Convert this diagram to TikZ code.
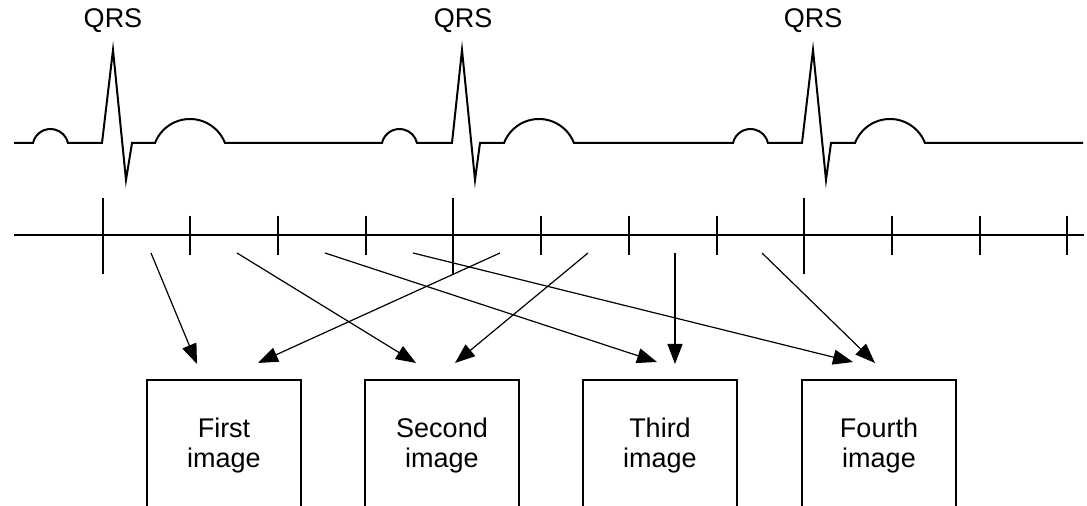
\documentclass[tikz,border=0pt]{standalone}
\usepackage{fontspec}
\setmainfont{Liberation Sans}
\usetikzlibrary{arrows.meta}
\begin{document}
\begin{tikzpicture}[x=0.5pt,y=-0.5pt,
  ecg/.style={line width=1pt, line join=miter, miter limit=20},
  axisline/.style={line width=1pt},
  shortmark/.style={line width=1pt},
  conn/.style={line width=0.6pt, -{Triangle[length=10pt,width=7.5pt]}},
  imgbox/.style={draw, line width=0.9pt, minimum width=77pt, minimum height=66pt,
    align=center, inner sep=0pt, font=\fontsize{13.5}{15}\selectfont},
  qrslabel/.style={font=\fontsize{13.5}{15}\selectfont, inner sep=0pt}]
\useasboundingbox (0,0) rectangle (1087,506);
\clip (0,0) rectangle (1087,506);

% QRS labels
\node[qrslabel] (q1) at (113,21) {QRS};
\node[qrslabel] (q2) at (463,21) {QRS};
\node[qrslabel] (q3) at (813,21) {QRS};

% ECG trace
\draw[ecg] (14,143) -- (33,143) arc[start angle=167.3,end angle=12.7,radius=8.97pt]
  -- (102,143) -- (113,50) -- (126,180) -- (132,143) -- (155,143)
  arc[start angle=158.9,end angle=21.1,radius=18.75pt]
  -- (382,143) arc[start angle=167.3,end angle=12.7,radius=8.97pt]
  -- (452,143) -- (462,50) -- (475,180) -- (480,143) -- (504,143)
  arc[start angle=158.9,end angle=21.1,radius=18.75pt]
  -- (733,143) arc[start angle=167.3,end angle=12.7,radius=8.97pt]
  -- (802,143) -- (813,50) -- (826,180) -- (831,143) -- (855,143)
  arc[start angle=158.9,end angle=21.1,radius=18.75pt]
  -- (1083,143);

% time axis
\draw[axisline] (14,235) -- (1084,235);
\foreach \x in {102.6,453.4,804.2} \draw[axisline] (\x,198) -- (\x,274);
\foreach \x in {190.3,278,365.7,541.1,628.8,716.5,891.9,979.6,1067.3}
  \draw[shortmark] (\x,216) -- (\x,255);

% image boxes
\node[imgbox] (b1) at (224,446) {First\\image};
\node[imgbox] (b2) at (442,446) {Second\\image};
\node[imgbox] (b3) at (660,446) {Third\\image};
\node[imgbox] (b4) at (879,446) {Fourth\\image};

% arrow start and end points
\coordinate (s1) at (151,253);
\coordinate (s2) at (237,253);
\coordinate (s3) at (325,253);
\coordinate (s4) at (413,253);
\coordinate (s5) at (500,253);
\coordinate (s6) at (588,253);
\coordinate (s7) at (675,253);
\coordinate (s8) at (762,253);
\coordinate (e1a) at (197,364);
\coordinate (e1b) at (258,363);
\coordinate (e2a) at (416,363);
\coordinate (e2b) at (455,363);
\coordinate (e3a) at (657,362);
\coordinate (e3b) at (675,364);
\coordinate (e4a) at (853,362);
\coordinate (e4b) at (875,363);

\draw[conn] (s1) -- (e1a);
\draw[conn] (s5) -- (e1b);
\draw[conn] (s2) -- (e2a);
\draw[conn] (s6) -- (e2b);
\draw[conn] (s3) -- (e3a);
\draw[conn] (s7) -- (e3b);
\draw[conn] (s4) -- (e4a);
\draw[conn] (s8) -- (e4b);
\end{tikzpicture}
\end{document}
